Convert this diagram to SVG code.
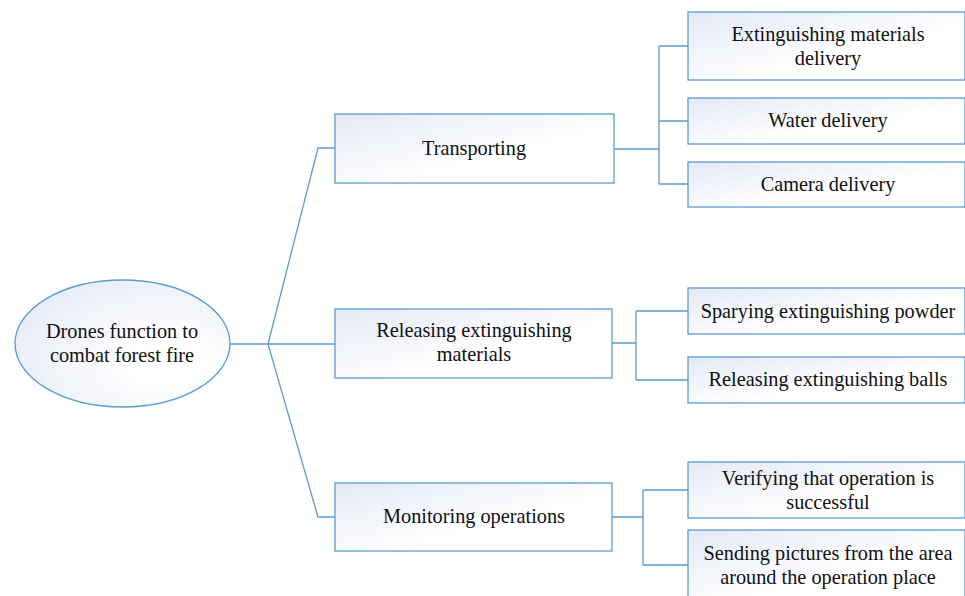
<svg xmlns="http://www.w3.org/2000/svg" width="965" height="596" viewBox="0 0 965 596">
<defs>
<linearGradient id="g" x1="0" y1="0" x2="1" y2="1">
<stop offset="0" stop-color="#e3e9f5"/>
<stop offset="0.6" stop-color="#ffffff"/>
</linearGradient>
<radialGradient id="ge" cx="0.7" cy="0.65" r="0.8">
<stop offset="0.2" stop-color="#ffffff"/>
<stop offset="1" stop-color="#e6ebf6"/>
</radialGradient>
</defs>
<style>
.n{fill:url(#g);stroke:#5b9bd5;stroke-width:1.3}
.t{font-family:"Liberation Serif","Times New Roman",serif;font-size:20.3px;fill:#111;text-anchor:middle}
.c{fill:none;stroke:#5b9bd5;stroke-width:1.3}
</style>
<g id="connectors">
<path class="c" d="M230 344H268M268 344L318 148H335M268 344H335M268 344L318 517H335"/>
<path class="c" d="M614 149H659M659 46V184M659 46H688M659 121H688M659 184H688"/>
<path class="c" d="M612 343H636M636 311V380M636 311H688M636 380H688"/>
<path class="c" d="M612 517H643M643 490V565M643 490H688M643 565H688"/>
</g>
<g id="root">
<ellipse cx="122.5" cy="343.5" rx="107.5" ry="63.5" fill="url(#ge)" stroke="#5b9bd5" stroke-width="1.3"/>
<text class="t" x="122" y="338">Drones function to</text>
<text class="t" x="122" y="362">combat forest fire</text>
</g>
<g id="transporting">
<rect class="n" x="335" y="114" width="279" height="69"/>
<text class="t" x="474" y="155">Transporting</text>
</g>
<g id="releasing">
<rect class="n" x="335" y="309" width="277" height="69"/>
<text class="t" x="474" y="337">Releasing extinguishing</text>
<text class="t" x="474" y="361">materials</text>
</g>
<g id="monitoring">
<rect class="n" x="335" y="483" width="277" height="68"/>
<text class="t" x="474" y="523">Monitoring operations</text>
</g>
<g id="ext-materials">
<rect class="n" x="688" y="12" width="277" height="68"/>
<text class="t" x="828" y="41">Extinguishing materials</text>
<text class="t" x="828" y="65">delivery</text>
</g>
<g id="water">
<rect class="n" x="688" y="98" width="277" height="46"/>
<text class="t" x="828" y="127">Water delivery</text>
</g>
<g id="camera">
<rect class="n" x="688" y="162" width="277" height="45"/>
<text class="t" x="828" y="191">Camera delivery</text>
</g>
<g id="spraying">
<rect class="n" x="688" y="288" width="277" height="46"/>
<text class="t" x="828" y="318">Sparying extinguishing powder</text>
</g>
<g id="balls">
<rect class="n" x="688" y="357" width="277" height="46"/>
<text class="t" x="828" y="386">Releasing extinguishing balls</text>
</g>
<g id="verifying">
<rect class="n" x="688" y="462" width="277" height="56"/>
<text class="t" x="828" y="485">Verifying that operation is</text>
<text class="t" x="828" y="509">successful</text>
</g>
<g id="sending">
<rect class="n" x="688" y="530" width="277" height="70"/>
<text class="t" x="828" y="560">Sending pictures from the area</text>
<text class="t" x="828" y="584">around the operation place</text>
</g>
</svg>
